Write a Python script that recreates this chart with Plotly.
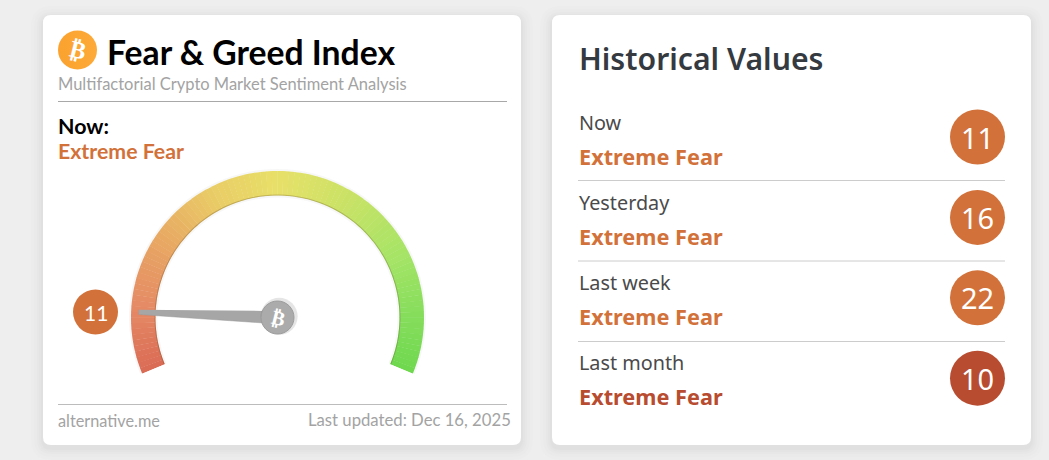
import math
import plotly.graph_objects as go

# ---- data ----
gauge_value = 11
gauge_label = "Extreme Fear"
hist_labels = ["Now", "Yesterday", "Last week", "Last month"]
hist_values = [11, 16, 22, 10]
hist_states = ["Extreme Fear", "Extreme Fear", "Extreme Fear", "Extreme Fear"]
hist_colors = ["#d2723a", "#d2723a", "#d2723a", "#b84c30"]
scale_ticks = list(range(0, 100))
scale_colors = [[0.0, "#da6b55"], [0.12, "#e58a65"], [0.25, "#e8a863"], [0.38, "#e9cc66"],
                [0.5, "#e8e068"], [0.62, "#cde266"], [0.78, "#a6e466"], [0.9, "#85dd5c"], [1.0, "#6fd84e"]]

W, H = 1049, 460
BG = "#eeeeee"
LATO = "Lato"
NUN = "Noto Sans"
SWEEP = 2.25           # degrees per index point
CX, CY, R_OUT, R_IN, R_MAX = 277.5, 317.5, 146.5, 122.0, 150.0


def rrect(x0, y0, x1, y1, r):
    return (f"M{x0+r},{y0} L{x1-r},{y0} Q{x1},{y0} {x1},{y0+r} L{x1},{y1-r} Q{x1},{y1} {x1-r},{y1} "
            f"L{x0+r},{y1} Q{x0},{y1} {x0},{y1-r} L{x0},{y0+r} Q{x0},{y0} {x0+r},{y0} Z")


shapes = []
for x0, x1 in [(43, 521), (552, 1031)]:
    for g, a in [(12, .006), (9, .008), (6, .01), (4, .012), (2, .014)]:
        shapes.append(dict(type="path", path=rrect(x0 - g, 15 - g + 3, x1 + g, 445 + g + 3, 8 + g),
                           fillcolor=f"rgba(0,0,0,{a})", line_width=0, layer="below"))
    shapes.append(dict(type="path", path=rrect(x0, 15, x1, 445, 8), fillcolor="#ffffff",
                       line_width=0, layer="below"))
for x0, x1, y, c in [(58, 507, 101.5, "#a8a8a8"), (58, 507, 404.5, "#bcbcbc"),
                     (578, 1005, 180.5, "#cccccc"), (578, 1005, 261, "#cccccc"), (578, 1005, 341.5, "#cccccc")]:
    shapes.append(dict(type="line", x0=x0, x1=x1, y0=y, y1=y, line=dict(color=c, width=1), layer="below"))
for s in shapes:
    s.update(xref="x", yref="y")

fig = go.Figure()

# logo and badges on the pixel-scaled hidden axes
fig.add_trace(go.Scatter(x=[77.5], y=[50], mode="markers", hoverinfo="skip",
                         marker=dict(size=39, color="#fba22f", line_width=0,
                                     gradient=dict(type="horizontal", color="#fdaa38"))))
fig.add_trace(go.Scatter(x=[95.5], y=[312], mode="markers", hoverinfo="skip",
                         marker=dict(size=45, color=hist_colors[0], line_width=0)))
hist_y = [137 + i * 80.4 for i in range(len(hist_values))]
fig.add_trace(go.Scatter(x=[977.5] * len(hist_values), y=hist_y, mode="markers", hoverinfo="skip",
                         marker=dict(size=55, color=hist_colors, line_width=0)))

# gauge: faint halo, gradient band, darker inner edge
fig.add_trace(go.Barpolar(subplot="polar", theta=[50 * SWEEP], r=[R_OUT - R_IN + 4], base=[R_IN - 2], width=[100 * SWEEP],
                          marker=dict(color="rgba(0,0,0,0.03)", line_width=0), hoverinfo="skip"))
fig.add_trace(go.Barpolar(subplot="polar", theta=[(t + 0.5) * SWEEP for t in scale_ticks],
                          r=[R_OUT - R_IN] * len(scale_ticks), base=[R_IN] * len(scale_ticks),
                          width=[1.06 * SWEEP] * len(scale_ticks), hoverinfo="skip",
                          marker=dict(color=[t + 0.5 for t in scale_ticks], cmin=0, cmax=100,
                                      colorscale=scale_colors, showscale=False, line_width=0)))
fig.add_trace(go.Barpolar(subplot="polar", theta=[50 * SWEEP], r=[1], base=[R_IN], width=[100 * SWEEP],
                          marker=dict(color="rgba(90,70,20,0.28)", line_width=0), hoverinfo="skip"))

# needle, drawn from the value
needle = gauge_value * SWEEP
fig.add_trace(go.Scatterpolar(subplot="polar", mode="lines", fill="toself", hoverinfo="skip",
                              r=[138.7, 138.7, 16, 16],
                              theta=[needle + 1.0, needle - 1.0, needle - 22, needle + 22],
                              fillcolor="#a6a6a6", line=dict(color="#9a9a9a", width=0.5)))
fig.add_trace(go.Scatterpolar(subplot="polar", mode="markers", r=[2], theta=[168], hoverinfo="skip",
                              marker=dict(size=37, color="rgba(0,0,0,0.10)", line_width=0)))
fig.add_trace(go.Scatterpolar(subplot="polar", mode="markers", r=[0], theta=[0], hoverinfo="skip",
                              marker=dict(size=33, color="#ababab", line=dict(color="#9c9c9c", width=1))))


def txt(x, y, s, size, color, family=LATO, anchor="left", weight=None, angle=0):
    font = dict(family=family, size=size, color=color)
    if weight:
        font["weight"] = weight
    return dict(x=x, y=y, xref="x", yref="y", text=s, showarrow=False, xanchor=anchor, yanchor="middle",
                font=font, textangle=angle)


ann = [
    txt(104.5, 52, "Fear &amp; Greed Index", 33.7, "#000000", weight=700),
    txt(56, 83.5, "Multifactorial Crypto Market Sentiment Analysis", 16.5, "#a3a3a3"),
    txt(56, 126, "Now:", 21.4, "#000000", weight=700),
    txt(56, 150.5, gauge_label, 21.3, hist_colors[0], weight=700),
    txt(56, 420, "alternative.me", 16.3, "#a3a3a3"),
    txt(513, 420, "Last updated: Dec 16, 2025", 16.7, "#a3a3a3", anchor="right"),
    txt(77.5, 50, "₿", 24, "#ffffff", family="DejaVu Sans", anchor="center", weight=700, angle=14),
    txt(278, 317.5, "₿", 20, "#ffffff", family="DejaVu Sans", anchor="center", weight=700, angle=14),
    txt(95.5, 312, str(gauge_value), 21, "#ffffff", anchor="center"),
    txt(577, 58, "Historical Values", 30.2, "#343a40", family=NUN, weight=600),
]
for i, (lab, st, col, v) in enumerate(zip(hist_labels, hist_states, hist_colors, hist_values)):
    ann.append(txt(577, 122 + i * 80.1, lab, 19.8, "#4a4a4a", family=NUN))
    ann.append(txt(577, 156 + i * 80.2, st, 21.7, col, family=NUN, weight=700))
    ann.append(txt(977.5, hist_y[i], str(v), 29, "#ffffff", family=NUN, anchor="center"))

low = R_MAX * math.sin(math.radians(22.5))
fig.update_layout(
    width=W, height=H, margin=dict(l=0, r=0, t=0, b=0), autosize=False,
    paper_bgcolor=BG, plot_bgcolor="rgba(0,0,0,0)", showlegend=False, shapes=shapes, annotations=ann,
    dragmode=False, hovermode=False,
    xaxis=dict(range=[0, W], visible=False, domain=[0, 1], fixedrange=True),
    yaxis=dict(range=[H, 0], visible=False, domain=[0, 1], fixedrange=True),
    polar=dict(
        domain=dict(x=[(CX - R_MAX) / W, (CX + R_MAX) / W],
                    y=[1 - (CY + low) / H, 1 - (CY - R_MAX) / H]),
        sector=[-22.5, 202.5],
        bgcolor="rgba(0,0,0,0)", barmode="overlay",
        radialaxis=dict(range=[0, R_MAX], visible=False),
        angularaxis=dict(visible=False, direction="clockwise", rotation=202.5, thetaunit="degrees",
                         type="linear"),
    ),
)
fig.write_html("out.html", config=dict(displayModeBar=False, staticPlot=True),
               post_script="document.body.style.margin='0';document.body.style.background='%s';" % BG)
